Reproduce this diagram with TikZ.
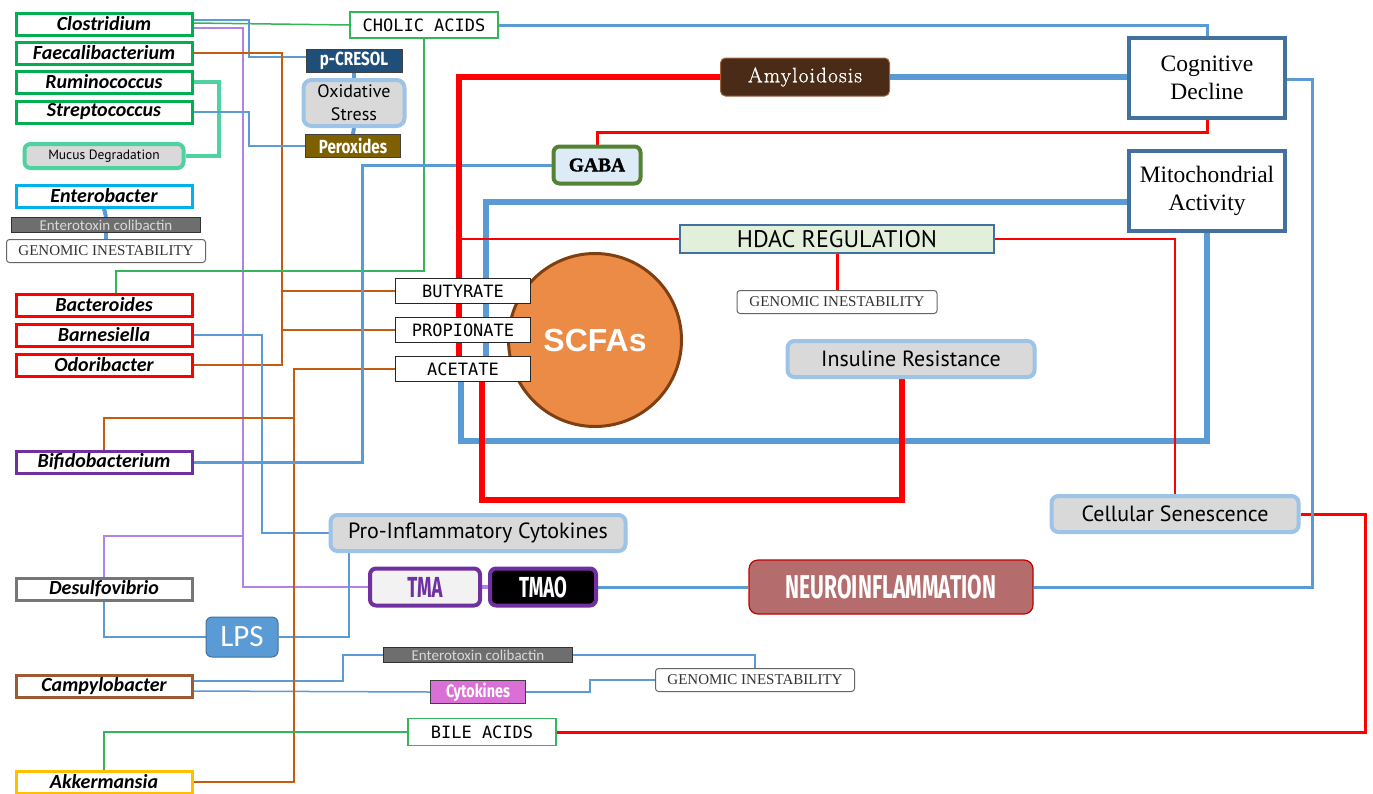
\documentclass[tikz,border=0pt]{standalone}
\usepackage{fontspec}
\setmainfont{Liberation Serif}
\newfontfamily\calib{Carlito}
\newfontfamily\monof{DejaVu Sans Mono}
\newfontfamily\dinf{PT Sans}
\newfontfamily\condf{Fira Sans}[FakeStretch=0.8]
\newfontfamily\impf{Fira Sans}[FakeStretch=0.64]
\newfontfamily\lmr{Latin Modern Roman}[LetterSpace=6,FakeBold=1.2]
\newfontfamily\gabaf{Liberation Serif}[FakeBold=1.5]
\newfontfamily\arialf{Liberation Sans}
\newcommand\fsz[2]{\fontsize{#1}{#2}\selectfont}
\usetikzlibrary{backgrounds}
\definecolor{bgreen}{HTML}{00B050}
\definecolor{bred}{HTML}{FF0000}
\definecolor{bpurple}{HTML}{7030A0}
\definecolor{bgray}{HTML}{767676}
\definecolor{bbrown}{HTML}{9C5B30}
\definecolor{bgold}{HTML}{FFC000}
\definecolor{bcyan}{HTML}{00B0F0}
\definecolor{mint}{HTML}{4FD1A0}
\definecolor{lblue}{HTML}{5B9BD5}
\definecolor{lbord}{HTML}{9DC3E6}
\definecolor{gfill}{HTML}{D9D9D9}
\definecolor{steel}{HTML}{41719C}
\definecolor{lorange}{HTML}{C55A11}
\definecolor{lpurp}{HTML}{B482E6}
\definecolor{lgreen}{HTML}{33B55A}
\definecolor{scfaf}{HTML}{EC8B45}
\definecolor{scfab}{HTML}{7F3F10}
\definecolor{amyf}{HTML}{4A2B17}
\definecolor{amyb}{HTML}{A0643C}
\definecolor{neurof}{HTML}{B46C6C}
\definecolor{neurob}{HTML}{C00000}
\definecolor{gabafill}{HTML}{DDEBF7}
\definecolor{gabab}{HTML}{548235}
\definecolor{hdacf}{HTML}{E2EFDA}
\definecolor{pcf}{HTML}{1F4E79}
\definecolor{perf}{HTML}{7F6000}
\definecolor{cytf}{HTML}{DA70D6}
\definecolor{etxf}{HTML}{6E6E6E}
\definecolor{tmaf}{HTML}{F2F2F2}
\tikzset{
  base/.style={draw, inner sep=0pt, align=center},
  bact/.style={base, line width=3pt, fill=white, minimum width=176pt, minimum height=22pt, font=\calib\bfseries\itshape\fsz{20}{22}},
  etx/.style={base, line width=1pt, draw=black!80, fill=etxf, minimum width=189pt, minimum height=15pt, text=black!15, font=\calib\fsz{15}{16}},
  gen/.style={base, rounded corners=3pt, line width=1pt, draw=black!60, fill=white, minimum width=199pt, minimum height=23pt, text=black!80, font=\fsz{15}{16}},
  monobox/.style={base, fill=white, line width=1.5pt, font=\monof\fsz{17}{19}},
  darkbox/.style={base, line width=1pt, draw=black!75, minimum height=23pt, text=white, font=\condf\bfseries\fsz{19}{20}},
  greybox/.style={base, rounded corners=7pt, line width=4pt, draw=lbord, fill=gfill, minimum height=36pt, font=\dinf\fsz{22}{24}},
  outbox/.style={base, line width=4pt, draw=steel, fill=white, minimum width=156pt, minimum height=80pt, font=\fsz{23.5}{28}},
  tmbox/.style={base, rounded corners=6pt, line width=4pt, draw=bpurple, minimum width=108pt, minimum height=37pt, font=\impf\bfseries\fsz{29}{30}},
  lnthin/.style={line width=1.5pt},
  lnmed/.style={line width=3pt},
  lnthick/.style={line width=5.5pt}
}
\begin{document}
\begin{tikzpicture}[x=1pt,y=-1pt]
\useasboundingbox (0,0) rectangle (1373,793);
% left column
\node[bact, draw=bgreen] (clos) at (104,24) {Clostridium};
\node[bact, draw=bgreen] (fae) at (104,53) {Faecalibacterium};
\node[bact, draw=bgreen] (rum) at (104,82) {Ruminococcus};
\node[bact, draw=bgreen] (str) at (104,112) {Streptococcus};
\node[base, rounded corners=6pt, line width=4pt, draw=mint, fill=gfill, minimum width=159pt, minimum height=24pt, font=\dinf\fsz{13.5}{15}] (muc) at (104,156) {Mucus Degradation};
\node[bact, draw=bcyan] (ent) at (104,196) {Enterobacter};
\node[etx] (etx1) at (106,225) {Enterotoxin colibactin};
\node[gen] (gen1) at (106,251) {GENOMIC INESTABILITY};
\node[bact, draw=bred] (bac) at (104,305) {Bacteroides};
\node[bact, draw=bred] (bar) at (104,335) {Barnesiella};
\node[bact, draw=bred] (odo) at (104,365) {Odoribacter};
\node[bact, draw=bpurple] (bif) at (104,462) {Bifidobacterium};
\node[bact, draw=bgray] (des) at (104,589) {Desulfovibrio};
\node[base, rounded corners=6pt, line width=1pt, draw=steel, fill=lblue, minimum width=72pt, minimum height=40pt, text=white, font=\calib\fsz{31}{32}] (lps) at (242,637) {LPS};
\node[bact, draw=bbrown] (cam) at (104,686) {Campylobacter};
\node[bact, draw=bgold] (akk) at (104,782) {Akkermansia};
% middle column
\node[monobox, draw=lgreen, minimum width=148pt, minimum height=26pt] (chol) at (424,25) {CHOLIC ACIDS};
\node[darkbox, fill=pcf, minimum width=96pt] (pc) at (354,61) {p-CRESOL};
\node[base, rounded corners=8pt, line width=4pt, draw=lbord, fill=gfill, minimum width=101pt, minimum height=46pt, font=\dinf\fsz{18}{23}] (ox) at (354,103) {Oxidative\\Stress};
\node[darkbox, fill=perf, minimum width=95pt] (per) at (353,146) {Peroxides};
\node[base, rounded corners=6pt, line width=4pt, draw=gabab, fill=gabafill, minimum width=87pt, minimum height=37pt, font=\gabaf\bfseries\fsz{19.5}{21}] (gaba) at (597,165) {GABA};
\node[base, rounded corners=5pt, line width=1pt, draw=amyb, fill=amyf, minimum width=169pt, minimum height=38pt, text=white, font=\lmr\fsz{21}{22}] (amy) at (805,77) {Amyloidosis};
\node[outbox] (cog) at (1207,78) {Cognitive\\Decline};
\node[outbox] (mito) at (1207,191) {Mitochondrial\\Activity};
\node[base, line width=1.2pt, draw=steel, fill=hdacf, minimum width=314pt, minimum height=28pt, font=\dinf\fsz{24}{26}] (hdac) at (837,239) {HDAC REGULATION};
\node[gen, minimum width=200pt] (gen2) at (837,302) {GENOMIC INESTABILITY};
\node[circle, draw=scfab, line width=3pt, fill=scfaf, minimum size=173pt, inner sep=0pt, text=white, font=\arialf\bfseries\fsz{32}{34}] (scfa) at (595,340) {SCFAs};
\node[monobox, draw=black!85, minimum width=135pt, minimum height=25pt] (but) at (463,291) {BUTYRATE};
\node[monobox, draw=black!85, minimum width=135pt, minimum height=25pt] (prop) at (463,330) {PROPIONATE};
\node[monobox, draw=black!85, minimum width=135pt, minimum height=25pt] (acet) at (463,369) {ACETATE};
\node[greybox, minimum width=247pt] (ins) at (911,359) {Insuline Resistance};
\node[greybox, minimum width=247pt] (cell) at (1175,514) {Cellular Senescence};
\node[greybox, minimum width=295pt] (pro) at (478,533) {Pro-Inflammatory Cytokines};
\node[tmbox, fill=tmaf, text=bpurple, minimum width=110pt] (tma) at (425,587) {TMA};
\node[tmbox, fill=black, text=white, minimum width=106pt] (tmao) at (543,587) {TMAO};
\node[base, rounded corners=9pt, line width=1.2pt, draw=neurob, fill=neurof, minimum width=284pt, minimum height=54pt, text=white, font=\impf\bfseries\fsz{33}{34}] (neuro) at (891,587) {NEUROINFLAMMATION};
\node[etx] (etx2) at (478,655) {Enterotoxin colibactin};
\node[darkbox, fill=cytf, minimum width=95pt, font=\condf\bfseries\fsz{18}{19}] (cyt) at (478,692) {Cytokines};
\node[gen] (gen3) at (755,680) {GENOMIC INESTABILITY};
\node[monobox, draw=lgreen, minimum width=148pt, minimum height=27pt] (bile) at (482,732) {BILE ACIDS};
% helper coordinates
\coordinate (fx) at (282,0);
\coordinate (lpx) at (349,0);
\coordinate (c1) at (424,271);
\begin{pgfonlayer}{background}
\fill[white] (0,0) rectangle (1373,793);
% thin connectors from bacteria
\draw[lnthin, lgreen] ([yshift=1pt]clos.east) -- (chol.west);
\draw[lnthin, lblue] ([yshift=4pt]clos.east) -| (249,57) -- ([yshift=4pt]pc.west);
\draw[lnthin, lpurp] ([yshift=-4pt]clos.east) -| (243,587) -- (tma.west);
\draw[lnthin, lpurp] (des.north) |- (243,536);
\draw[lnthin, lorange] (fae.east) -| (282,365) -- (odo.east);
\draw[lnthin, lorange] (but.west) -- (but.west -| fx);
\draw[lnthin, lorange] (prop.west) -- (prop.west -| fx);
\draw[line width=4pt, mint] (rum.east) -| (219,156) -- (muc.east);
\draw[lnthin, lblue] (str.east) -| (249,146) -- (per.west);
\draw[line width=4pt, lblue] (pc.south) -- (ox.north);
\draw[line width=4pt, lblue] (ox.south) -- (per.north);
\draw[line width=4pt, lblue] (ent.south) -- (etx1.north);
\draw[line width=4pt, lblue] (etx1.south) -- (gen1.north);
\draw[lnthin, lgreen] ([xshift=12pt]bac.north) |- (c1) -- (chol.south);
\draw[lnthin, lblue] (bar.east) -| (262,533) -- (pro.west);
\draw[lnthin, lblue] (des.south) |- (lps.west);
\draw[lnthin, lblue] (lps.east) -| (pro.south -| lpx);
\draw[lnthin, lblue] ([yshift=5pt]cam.east) -| (343,655) -- (etx2.west);
\draw[lnthin, lblue] ([yshift=-5pt]cam.east) -- (cyt.west);
\draw[lnthin, lblue] (etx2.east) -| (gen3.north);
\draw[lnthin, lblue] (cyt.east) -| (590,680) -- (gen3.west);
\draw[lnthin, lorange] (akk.east) -| (294,369) -- (acet.west);
\draw[lnthin, lorange] (bif.north) |- (294,418);
\draw[lnthin, lgreen] (akk.north) |- (bile.west);
% blue medium / thick
\draw[lnmed, lblue] (chol.east) -| (cog.north);
\draw[lnmed, lblue] (gaba.west) -| (362,462) -- (bif.east);
\draw[lnthick, lblue] (amy.east) -- (amy.east -| cog.west);
\draw[lnmed, lblue] (tmao.east) -- (neuro.west);
\draw[line width=4pt, lpurp] (tma.east) -- (tmao.west);
\draw[lnthick, lblue] ([yshift=-11pt]mito.west) -| (486,369) -- (461,369) -- (461,441) -| (mito.south);
% red
\draw[lnthick, bred] (amy.west) -| (459,369) -- (482,369) -- (482,500) -| ([xshift=-9pt]ins.south);
\draw[line width=2.5pt, bred] (459,239) -- (hdac.west);
\draw[line width=2.5pt, bred] (hdac.east) -| (cell.north);
\draw[lnmed, bred] (hdac.south) -- (gen2.north);
\draw[lnmed, bred] (cog.south) -- ++(0,12) -| (gaba.north);
\draw[lnmed, bred] (cell.east) -| (1365,732) -- (bile.east);
\draw[lnmed, lblue] ([yshift=-1pt]cog.east) -| (1312,587) -- (neuro.east);
\end{pgfonlayer}
\end{tikzpicture}
\end{document}
